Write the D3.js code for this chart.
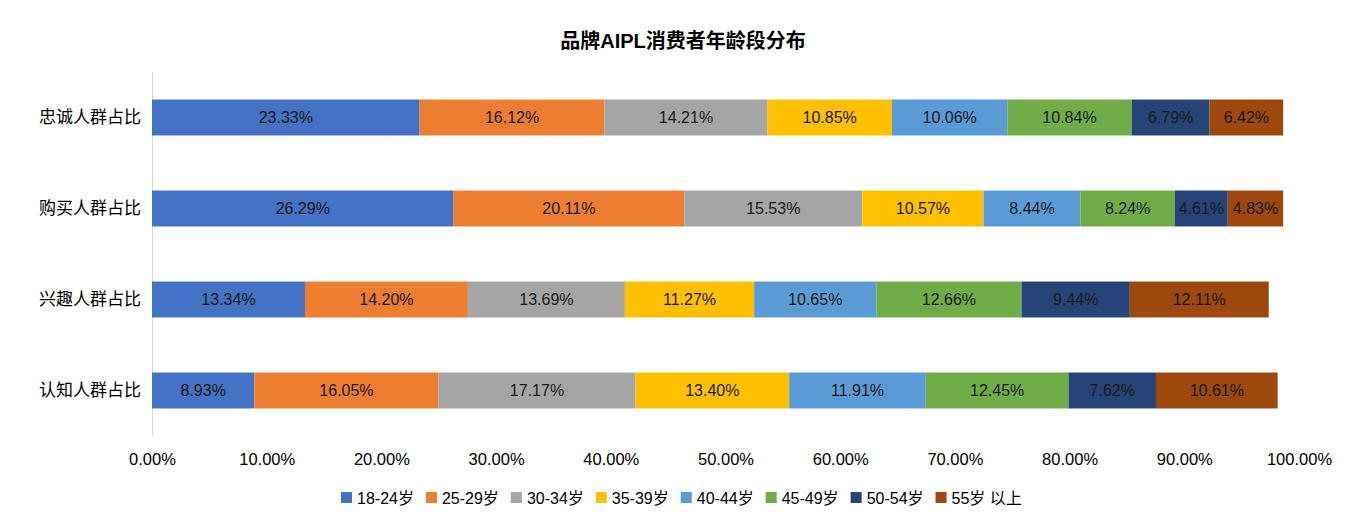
<!DOCTYPE html>
<html><head><meta charset="utf-8">
<script src="https://cdn.jsdelivr.net/npm/d3@7"></script>
<style>body{margin:0;background:#fff;}text{font-family:"Liberation Sans",Arial,"Noto Sans CJK SC",sans-serif;}</style>
</head><body><svg id="c" width="1347" height="528"></svg>
<script>
const title = "品牌AIPL消费者年龄段分布";
const categories = ["忠诚人群占比","购买人群占比","兴趣人群占比","认知人群占比"];
const seriesNames = ["18-24岁","25-29岁","30-34岁","35-39岁","40-44岁","45-49岁","50-54岁","55岁 以上"];
const s1824 = [23.33, 26.29, 13.34, 8.93];
const s2529 = [16.12, 20.11, 14.20, 16.05];
const s3034 = [14.21, 15.53, 13.69, 17.17];
const s3539 = [10.85, 10.57, 11.27, 13.40];
const s4044 = [10.06, 8.44, 10.65, 11.91];
const s4549 = [10.84, 8.24, 12.66, 12.45];
const s5054 = [6.79, 4.61, 9.44, 7.62];
const s55 = [6.42, 4.83, 12.11, 10.61];
const xTicks = [0,10,20,30,40,50,60,70,80,90,100];
const colors = ["#4472C4","#ED7D31","#A5A5A5","#FFC000","#5B9BD5","#70AD47","#264478","#9E480E"];

const seriesVals = [s1824,s2529,s3034,s3539,s4044,s4549,s5054,s55];
const rows = categories.map((c,i)=>{const o={cat:c}; seriesNames.forEach((s,j)=>o[s]=seriesVals[j][i]); return o;});
const stack = d3.stack().keys(seriesNames)(rows);

const svg = d3.select("#c");
const x = d3.scaleLinear().domain([0,100]).range([152,1299]);
const y = d3.scaleBand().domain(categories).range([72,436]).paddingInner(0.605).paddingOuter(0.3025);

svg.append("text").attr("x",683).attr("y",48).attr("text-anchor","middle")
  .attr("font-size",20).attr("font-weight","bold").attr("fill","#000").text(title);

// y axis line
svg.append("line").attr("x1",152.5).attr("x2",152.5).attr("y1",72).attr("y2",436).attr("stroke","#d9d9d9");

const g = svg.append("g");
stack.forEach((layer,j)=>{
  g.selectAll(null).data(layer).enter().append("rect")
   .attr("x",d=>x(d[0])).attr("width",d=>x(d[1])-x(d[0]))
   .attr("y",d=>y(d.data.cat)).attr("height",y.bandwidth())
   .attr("fill",colors[j]);
});
stack.forEach((layer,j)=>{
  g.selectAll(null).data(layer).enter().append("text")
   .attr("x",d=>(x(d[0])+x(d[1]))/2).attr("y",d=>y(d.data.cat)+y.bandwidth()/2)
   .attr("dy","0.35em").attr("text-anchor","middle").attr("font-size",16).attr("fill","#1a1a1a")
   .text(d=>(d[1]-d[0]).toFixed(2)+"%");
});

// category labels
svg.selectAll(null).data(categories).enter().append("text")
  .attr("x",141).attr("y",d=>y(d)+y.bandwidth()/2).attr("dy","0.35em")
  .attr("text-anchor","end").attr("font-size",17).attr("fill","#000").text(d=>d);

// x axis
const xa = svg.append("g").attr("transform","translate(0,453)")
  .call(d3.axisBottom(x).tickValues(xTicks).tickSize(0).tickFormat(d=>d.toFixed(2)+"%"));
xa.select(".domain").remove();
xa.selectAll("text").attr("font-size",16.5).attr("fill","#000").attr("font-family","Liberation Sans, Arial, sans-serif").attr("dy","0.71em").attr("y",0);

// legend
const lg = svg.append("g");
let lx = 341;
seriesNames.forEach((s,j)=>{
  lg.append("rect").attr("x",lx).attr("y",492).attr("width",11).attr("height",11).attr("fill",colors[j]);
  const t = lg.append("text").attr("x",lx+16).attr("y",498).attr("dy","0.35em").attr("font-size",16).attr("fill","#000").text(s);
  lx += 16 + t.node().getComputedTextLength() + 12;
});
</script></body></html>
